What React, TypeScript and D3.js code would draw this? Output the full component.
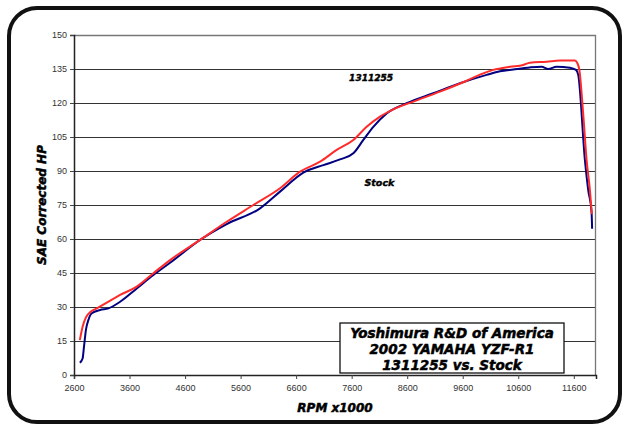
import { useEffect, useRef } from "react";
import * as d3 from "d3";

// 1311255 pipe (red)
const modRpm = [2705, 2755, 2815, 2900, 3010, 3190, 3430, 3730, 4030, 4330, 4870, 5350, 5830, 6310, 6670, 7030, 7330, 7630, 7870, 8110, 8350, 8710, 9190, 9670, 9910, 10150, 10450, 10690, 10810, 11110, 11350, 11620, 11660, 11700, 11770, 11830, 11890, 11925];
const modHp = [15.4, 21.3, 25.4, 27.9, 29.4, 31.9, 35.3, 39.0, 44.9, 50.7, 59.6, 67.6, 75.0, 82.4, 89.7, 94.1, 99.3, 103.7, 109.5, 114.0, 117.2, 120.6, 125.0, 129.8, 132.5, 134.6, 136.0, 136.8, 137.8, 138.2, 138.7, 138.7, 137.8, 134.6, 115.0, 95.0, 81.6, 71.0];

// Stock (blue)
const stockRpm = [2705, 2755, 2780, 2815, 2860, 2920, 3070, 3220, 3430, 3730, 4030, 4330, 4870, 5350, 5950, 6310, 6730, 7090, 7390, 7630, 7810, 7990, 8230, 8590, 9070, 9550, 10030, 10270, 10510, 10810, 11020, 11140, 11290, 11530, 11640, 11680, 11800, 11860, 11920, 11930];
const stockHp = [5.4, 7.3, 12.5, 19.9, 24.3, 27.2, 28.7, 29.4, 32.3, 38.2, 44.1, 49.5, 59.6, 66.6, 73.5, 80.9, 89.3, 92.6, 95.1, 97.8, 103.7, 109.5, 115.4, 119.9, 124.3, 128.7, 132.4, 134.0, 134.8, 135.7, 136.0, 135.0, 136.0, 135.6, 134.6, 132.4, 94.9, 81.6, 72.0, 64.5];

const rpmTicks = [2600, 3600, 4600, 5600, 6600, 7600, 8600, 9600, 10600, 11600];
const hpTicks = [0, 15, 30, 45, 60, 75, 90, 105, 120, 135, 150];
const boxLines = ["Yoshimura R&D of America", "2002 YAMAHA YZF-R1", "1311255 vs. Stock"];

export default function App() {
    const svgRef = useRef<SVGSVGElement | null>(null);

    useEffect(() => {
        if (!svgRef.current) return;
        const root = d3.select(svgRef.current);
        root.selectAll("*").remove();

        const width = 626;
        const height = 430;
        const margin = { top: 35, right: 30, bottom: 55, left: 74 };
        const innerWidth = width - margin.left - margin.right;
        const innerHeight = height - margin.top - margin.bottom;

        const bold = "'DejaVu Sans', sans-serif";
        const plain = "'Liberation Sans', Arial, sans-serif";

        // heavy italic text, close to Arial Black Italic
        const heavy = (sel: any, size: number) =>
            sel.attr("font-family", bold)
                .attr("font-weight", "bold")
                .attr("font-style", "italic")
                .attr("font-size", `${size}px`)
                .attr("fill", "#000")
                .attr("stroke", "#000")
                .attr("stroke-width", 0.5);

        // outer rounded frame
        root.append("rect")
            .attr("x", 9)
            .attr("y", 8)
            .attr("width", 611)
            .attr("height", 414)
            .attr("rx", 28)
            .attr("fill", "#fff")
            .attr("stroke", "#111")
            .attr("stroke-width", 4);

        const svg = root.append("g").attr("transform", `translate(${margin.left},${margin.top})`);

        const x = d3.scaleLinear().domain([2600, 12000]).range([0, innerWidth]);
        const y = d3.scaleLinear().domain([0, 150]).range([innerHeight, 0]);

        // gridlines
        svg.selectAll(".grid")
            .data(hpTicks.slice(1, -1))
            .enter()
            .append("line")
            .attr("x1", 0)
            .attr("x2", innerWidth)
            .attr("y1", (d) => Math.round(y(d)) + 0.5)
            .attr("y2", (d) => Math.round(y(d)) + 0.5)
            .attr("stroke", "#333")
            .attr("stroke-width", 1);

        // plot border (top/right)
        svg.append("path")
            .attr("d", `M0,0.5H${innerWidth - 0.5}V${innerHeight}`)
            .attr("fill", "none")
            .attr("stroke", "#777")
            .attr("stroke-width", 1.3);

        // X axis
        const xAxis = svg.append("g")
            .attr("transform", `translate(0,${innerHeight})`)
            .call(d3.axisBottom(x).tickValues(rpmTicks).tickSize(4).tickFormat((d) => `${d}`));
        xAxis.select(".domain").attr("stroke", "#222").attr("stroke-width", 1.5);
        xAxis.selectAll("line").attr("stroke", "#444");
        xAxis.selectAll("text")
            .attr("font-family", plain)
            .attr("font-size", "9px")
            .attr("fill", "#333")
            .attr("dy", "1.0em");

        // Y axis
        const yAxis = svg.append("g")
            .call(d3.axisLeft(y).tickValues(hpTicks).tickSize(4).tickFormat((d) => `${d}`));
        yAxis.select(".domain").attr("stroke", "#222").attr("stroke-width", 1.5);
        yAxis.selectAll("line").attr("stroke", "#444");
        yAxis.selectAll("text")
            .attr("font-family", plain)
            .attr("font-size", "9px")
            .attr("fill", "#333")
            .attr("x", -7);

        // curves
        const line = d3.line<[number, number]>()
            .x((d) => x(d[0]))
            .y((d) => y(d[1]))
            .curve(d3.curveMonotoneX);

        const stock = stockRpm.map((r, i) => [r, stockHp[i]] as [number, number]);
        const mod = modRpm.map((r, i) => [r, modHp[i]] as [number, number]);

        svg.append("path")
            .datum(stock)
            .attr("d", line)
            .attr("fill", "none")
            .attr("stroke", "#000080")
            .attr("stroke-width", 2)
            .attr("stroke-linejoin", "round");

        svg.append("path")
            .datum(mod)
            .attr("d", line)
            .attr("fill", "none")
            .attr("stroke", "#ff2b2b")
            .attr("stroke-width", 2)
            .attr("stroke-linejoin", "round");

        // curve labels
        heavy(svg.append("text")
            .attr("x", x(7950))
            .attr("y", y(129.5))
            .attr("text-anchor", "middle")
            .attr("textLength", 44), 9)
            .attr("stroke-width", 0.4)
            .text("1311255");

        heavy(svg.append("text")
            .attr("x", x(8100))
            .attr("y", y(83.5))
            .attr("text-anchor", "middle"), 9.5)
            .attr("stroke-width", 0.4)
            .text("Stock");

        // title box
        const box = svg.append("g").attr("transform", `translate(${340 - margin.left},${323 - margin.top})`);
        box.append("rect")
            .attr("width", 224)
            .attr("height", 50)
            .attr("fill", "#fff")
            .attr("stroke", "#111")
            .attr("stroke-width", 1.3);
        heavy(box.selectAll(".boxline")
            .data(boxLines)
            .enter()
            .append("text")
            .attr("class", "boxline")
            .attr("x", 112)
            .attr("y", (d: string, i: number) => 14.5 + i * 16)
            .attr("text-anchor", "middle"), 13.5)
            .text((d: string) => d);

        // axis titles
        heavy(root.append("text")
            .attr("transform", `translate(46,${205}) rotate(-90)`)
            .attr("text-anchor", "middle"), 12)
            .text("SAE Corrected HP");

        heavy(root.append("text")
            .attr("x", 335)
            .attr("y", 412)
            .attr("text-anchor", "middle"), 12)
            .text("RPM x1000");
    }, []);

    return (
        <svg
            ref={svgRef}
            width={626}
            height={430}
            style={{ position: "absolute", left: 0, top: 0 }}
        />
    );
}
